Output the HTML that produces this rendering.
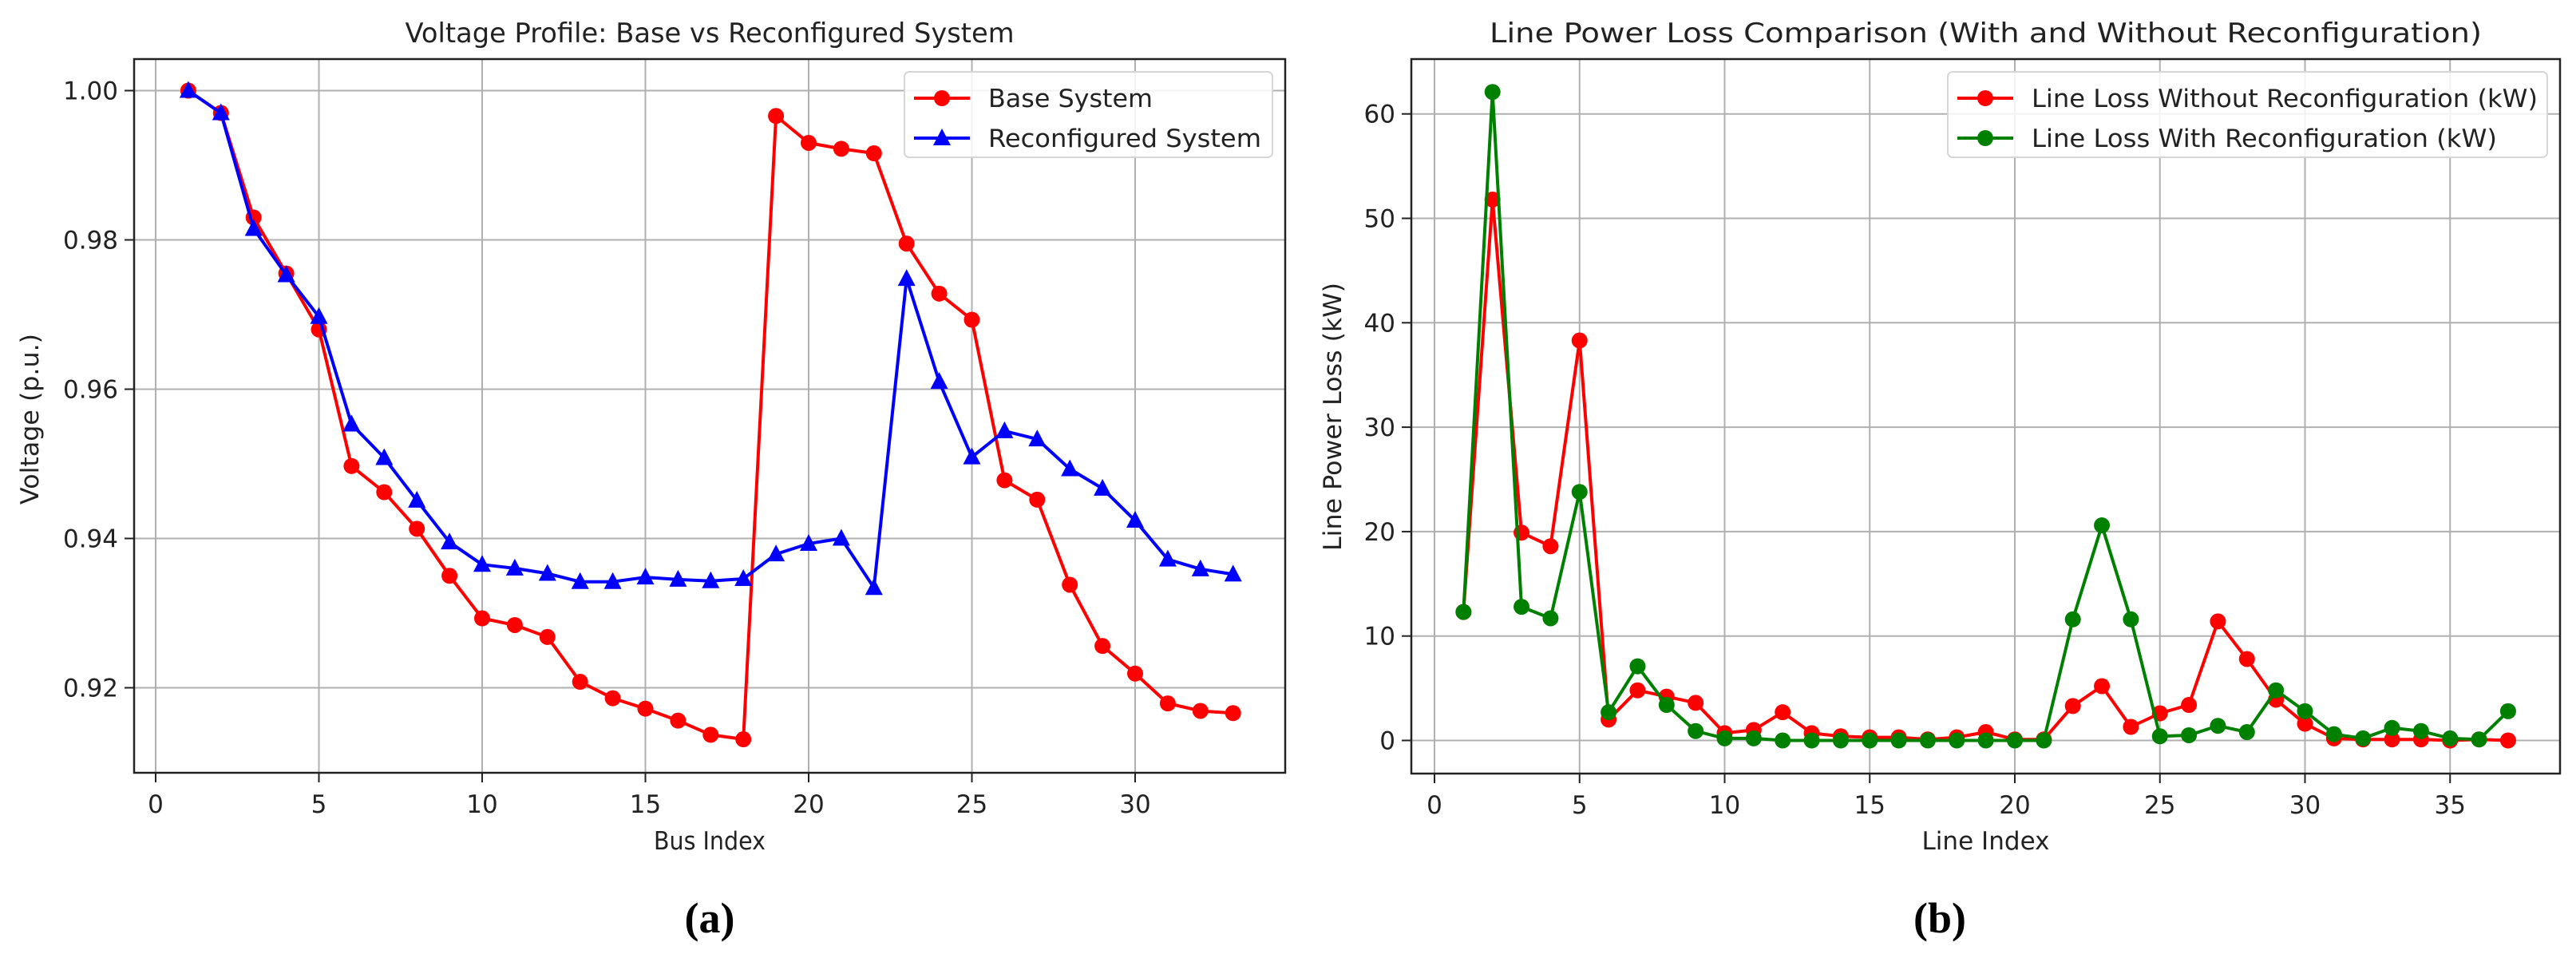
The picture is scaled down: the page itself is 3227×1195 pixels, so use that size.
<!DOCTYPE html>
<html><head><meta charset="utf-8"><style>
html,body{margin:0;padding:0;background:#fff;}
svg{display:block;font-family:"DejaVu Sans","Liberation Sans",sans-serif;}
</style></head><body>
<svg id="fig" width="3227" height="1195" viewBox="0 0 3227 1195" xmlns="http://www.w3.org/2000/svg"></svg>
<script>
const busIdx = Array.from({length:33},(_,i)=>i+1);
const baseV = [1.000,0.997,0.983,0.9755,0.968,0.9497,0.9462,0.9413,0.935,0.9293,0.9284,0.9268,0.9208,0.9186,0.9172,0.9156,0.9137,0.9131,0.9966,0.9930,0.9922,0.9916,0.9795,0.9728,0.9693,0.9478,0.9452,0.9338,0.9256,0.9219,0.9179,0.9169,0.9166];
const reconfV = [1.000,0.997,0.9815,0.9753,0.9697,0.9553,0.9508,0.9451,0.9395,0.9365,0.9360,0.9353,0.9342,0.9342,0.9348,0.9345,0.9343,0.9346,0.9379,0.9393,0.9400,0.9334,0.9748,0.9610,0.9509,0.9544,0.9533,0.9493,0.9467,0.9424,0.9372,0.9359,0.9352];
const leftXTicks = [0,5,10,15,20,25,30];
const leftYTicks = [0.92,0.94,0.96,0.98,1.00];
const lineIdx = Array.from({length:37},(_,i)=>i+1);
const lossWithout = [12.3,51.8,19.9,18.6,38.3,2.0,4.8,4.2,3.6,0.7,1.0,2.7,0.7,0.4,0.3,0.3,0.1,0.3,0.8,0.1,0.1,3.3,5.2,1.3,2.6,3.4,11.4,7.8,3.9,1.6,0.2,0.1,0.1,0.1,0.0,0.1,0.0];
const lossWith = [12.3,62.1,12.8,11.7,23.8,2.7,7.1,3.4,0.9,0.2,0.2,0.0,0.0,0.0,0.0,0.0,0.0,0.0,0.0,0.0,0.0,11.6,20.6,11.6,0.4,0.5,1.4,0.8,4.8,2.8,0.6,0.2,1.2,0.9,0.2,0.1,2.8];
const rightXTicks = [0,5,10,15,20,25,30,35];
const rightYTicks = [0,10,20,30,40,50,60];

const NS="http://www.w3.org/2000/svg";
const svg=document.getElementById('fig');
function el(tag,attrs,parent){const e=document.createElementNS(NS,tag);for(const k in attrs)e.setAttribute(k,attrs[k]);(parent||svg).appendChild(e);return e;}
function txt(s,attrs,parent){const t=el('text',attrs,parent);t.textContent=s;return t;}

function chart(cfg){
  const g=el('g',{});
  
  
  const X=v=>cfg.x0px+(v-0)*cfg.xs;
  const Y=v=>cfg.yRefPx-(v-cfg.yRef)*cfg.ys;
  cfg.xTicks.forEach(t=>{
    const l=el('line',{x1:X(t),x2:X(t),y1:cfg.top,y2:cfg.bottom,stroke:'#b0b0b0','stroke-width':2},g);
    
    el('line',{x1:X(t),x2:X(t),y1:cfg.bottom,y2:cfg.bottom+12,stroke:'#222','stroke-width':2},g);
    const tl=txt(String(t),{x:X(t),y:cfg.bottom+50,'text-anchor':'middle','font-size':31,fill:'#222'},g);
    
  });
  cfg.yTicks.forEach(t=>{
    const l=el('line',{x1:cfg.left,x2:cfg.right,y1:Y(t),y2:Y(t),stroke:'#b0b0b0','stroke-width':2},g);
    
    el('line',{x1:cfg.left-12,x2:cfg.left,y1:Y(t),y2:Y(t),stroke:'#222','stroke-width':2},g);
    const tl=txt(cfg.yFmt(t),{x:cfg.left-20,y:Y(t)+11,'text-anchor':'end','font-size':31,fill:'#222'},g);
    
  });
  cfg.series.forEach(s=>{
    const sg=el('g',{},g);
    
    
    const pts=s.y.map((v,i)=>X(cfg.xs_data[i]).toFixed(1)+','+Y(v).toFixed(1)).join(' ');
    el('polyline',{points:pts,fill:'none',stroke:s.color,'stroke-width':4,'stroke-linejoin':'round'},sg);
    s.y.forEach((v,i)=>{
      const cx=X(cfg.xs_data[i]),cy=Y(v);
      let m;
      if(s.marker==='tri'){m=el('polygon',{points:`${cx},${cy-12} ${cx-11},${cy+9} ${cx+11},${cy+9}`,fill:s.color},sg);}
      else{m=el('circle',{cx:cx,cy:cy,r:10,fill:s.color},sg);}
      
      
    });
  });
  const f=el('rect',{x:cfg.left,y:cfg.top,width:cfg.right-cfg.left,height:cfg.bottom-cfg.top,fill:'none',stroke:'#222','stroke-width':2.5},g);
  
  const ti=txt(cfg.title,{x:(cfg.left+cfg.right)/2,y:53,'text-anchor':'middle','font-size':34,fill:'#222',textLength:cfg.titleLen,lengthAdjust:'spacingAndGlyphs'},g);
  
  const xl=txt(cfg.xLabel,{x:(cfg.left+cfg.right)/2,y:1064,'text-anchor':'middle','font-size':31,fill:'#222',textLength:cfg.xLabelLen,lengthAdjust:'spacingAndGlyphs'},g);
  
  const yl=txt(cfg.yLabel,{x:0,y:0,'text-anchor':'middle','font-size':31,fill:'#222',textLength:cfg.yLabelLen,lengthAdjust:'spacingAndGlyphs',transform:`translate(${cfg.yLabelX},${cfg.yLabelY}) rotate(-90)`},g);
  
  const lg=el('g',{},g);
  
  el('rect',{x:cfg.leg.x,y:cfg.leg.y,width:cfg.leg.w,height:cfg.leg.h,rx:6,fill:'rgba(255,255,255,0.85)',stroke:'#d6d6d6','stroke-width':2},lg);
  cfg.series.forEach((s,i)=>{
    const e=el('g',{},lg);
    
    const yy=cfg.leg.y+33+i*50;
    el('line',{x1:cfg.leg.x+12,x2:cfg.leg.x+82,y1:yy,y2:yy,stroke:s.color,'stroke-width':4},e);
    if(s.marker==='tri')el('polygon',{points:`${cfg.leg.x+47},${yy-12} ${cfg.leg.x+36},${yy+9} ${cfg.leg.x+58},${yy+9}`,fill:s.color},e);
    else el('circle',{cx:cfg.leg.x+47,cy:yy,r:10,fill:s.color},e);
    txt(s.label,{x:cfg.leg.x+105,y:yy+11,'font-size':31,fill:'#222',textLength:s.labelLen,lengthAdjust:'spacingAndGlyphs'},e);
  });
}

chart({name:'voltage-profile-chart',left:168,right:1610,top:74,bottom:968,
  x0px:195,xs:40.9,xs_data:busIdx,yRef:1.0,yRefPx:113.5,ys:187/0.02,
  xTicks:leftXTicks,yTicks:leftYTicks,yFmt:t=>t.toFixed(2),
  title:'Voltage Profile: Base vs Reconfigured System',titleLen:763,
  xLabel:'Bus Index',xLabelLen:140,yLabel:'Voltage (p.u.)',yLabelLen:214,yLabelX:48,yLabelY:525,
  leg:{x:1133,y:90,w:461,h:107},
  series:[{name:'base-system-line',y:baseV,color:'#ff0000',marker:'circle',label:'Base System',labelLen:206},
          {name:'reconfigured-system-line',y:reconfV,color:'#0000ff',marker:'tri',label:'Reconfigured System',labelLen:342}]});

chart({name:'line-loss-chart',left:1768,right:3207,top:74,bottom:969,
  x0px:1797,xs:36.35,xs_data:lineIdx,yRef:0,yRefPx:927.5,ys:13.08,
  xTicks:rightXTicks,yTicks:rightYTicks,yFmt:t=>String(t),
  title:'Line Power Loss Comparison (With and Without Reconfiguration)',titleLen:1243,
  xLabel:'Line Index',xLabelLen:160,yLabel:'Line Power Loss (kW)',yLabelLen:336,yLabelX:1680,yLabelY:522,
  leg:{x:2440,y:90,w:751,h:107},
  series:[{name:'loss-without-reconfiguration-line',y:lossWithout,color:'#ff0000',marker:'circle',label:'Line Loss Without Reconfiguration (kW)',labelLen:634},
          {name:'loss-with-reconfiguration-line',y:lossWith,color:'#008000',marker:'circle',label:'Line Loss With Reconfiguration (kW)',labelLen:583}]});

const a=txt('(a)',{x:889,y:1168,'text-anchor':'middle','font-size':54,'font-weight':'bold','font-family':'Liberation Serif, serif',fill:'#000'});

const b=txt('(b)',{x:2430,y:1168,'text-anchor':'middle','font-size':54,'font-weight':'bold','font-family':'Liberation Serif, serif',fill:'#000'});

</script>
</body></html>
